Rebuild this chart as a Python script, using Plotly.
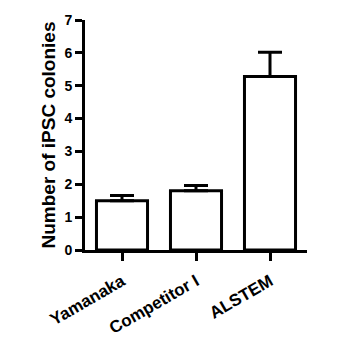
import plotly.graph_objects as go

categories = ["Yamanaka", "Competitor I", "ALSTEM"]
values = [1.50, 1.80, 5.28]
errors = [0.16, 0.16, 0.74]
y_ticks = [0, 1, 2, 3, 4, 5, 6, 7]

font_family = "Arial, Liberation Sans, sans-serif"

fig = go.Figure()
fig.add_trace(go.Bar(
    x=categories, y=values, width=0.69,
    marker=dict(color="white", line=dict(color="black", width=3)),
    error_y=dict(type="data", array=errors, arrayminus=[0]*len(errors), symmetric=False,
                 color="black", thickness=3, width=12),
))
fig.update_layout(
    width=363, height=339,
    margin=dict(l=85, r=56, t=20, b=89),
    paper_bgcolor="white", plot_bgcolor="white",
    showlegend=False,
    xaxis=dict(
        range=[-0.5, 2.5], showline=True, linecolor="black", linewidth=3,
        tickvals=categories, ticktext=["<b>%s</b>" % c for c in categories],
        ticks="outside", ticklen=8, tickwidth=3, tickcolor="black",
        tickangle=-30, showgrid=False, zeroline=False, automargin=False,
        ticklabelstandoff=4,
        tickfont=dict(family=font_family, size=17, color="black"),
    ),
    yaxis=dict(
        range=[0, 7], tickvals=y_ticks, ticktext=["<b>%d</b>" % v for v in y_ticks],
        showline=True, linecolor="black", linewidth=3,
        ticks="outside", ticklen=7, tickwidth=3, tickcolor="black",
        showgrid=False, zeroline=False, automargin=False,
        tickfont=dict(family=font_family, size=14, color="black"),
        title=dict(text="<b>Number of iPSC colonies</b>", standoff=4,
                   font=dict(family=font_family, size=19, color="black")),
    ),
)
fig.write_html("out.html")
